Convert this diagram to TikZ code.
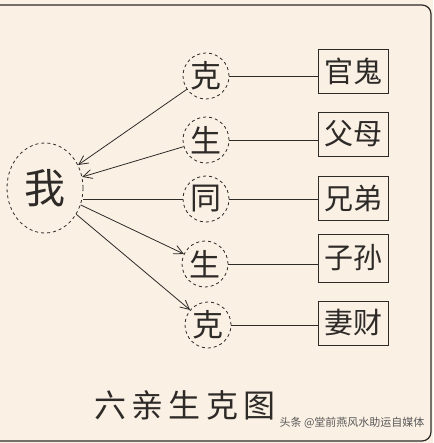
\documentclass[tikz,border=0pt]{standalone}
\usepackage{fontspec}
\setmainfont{Noto Sans CJK SC}
\usetikzlibrary{arrows.meta,shapes.geometric}
\definecolor{fond}{RGB}{250,240,228}
\definecolor{trait}{RGB}{45,42,40}
\tikzset{
  rel/.style={circle,draw=trait,dashed,minimum size=46pt,inner sep=0pt,font=\fontsize{31}{31}\selectfont},
  parent/.style={rectangle,draw=trait,thick,minimum width=70pt,minimum height=44pt,inner sep=0pt,font=\fontsize{29}{29}\selectfont},
  fleche/.style={draw=trait,-{Straight Barb[length=9pt,width=9pt]}},
}
\begin{document}
\begin{tikzpicture}[x=1pt,y=-1pt,line width=0.8pt,text=trait]
            \fill[fond] (0,0) rectangle (433,443); %fond
            \useasboundingbox (0,0) rectangle (433,443);
            \draw[trait,line width=1.2pt,rounded corners=9pt] (-5,5) -- (431,5) -- (431,441) -- (-5,441); %cadre

            \node[ellipse,draw=trait,dashed,minimum width=76pt,minimum height=90pt,inner sep=0pt,font=\fontsize{41}{41}\selectfont] (wo) at (45,188) {我}; %moi

            \node[rel] (ke1) at (206,76) {克};
            \node[rel] (sheng1) at (206,140) {生};
            \node[rel] (tong) at (206,199) {同};
            \node[rel] (sheng2) at (205,264) {生};
            \node[rel] (ke2) at (208,325) {克};

            \node[parent] (guangui) at (353,71) {官鬼};
            \node[parent] (fumu) at (353,134) {父母};
            \node[parent] (xiongdi) at (353,198) {兄弟};
            \node[parent,minimum height=48pt] (zisun) at (353,258) {子孙};
            \node[parent] (qicai) at (353,323) {妻财};

            % liens vers les cases
            \draw[trait] (ke1.east) -- (ke1.east -| guangui.west);
            \draw[trait] (sheng1.east) -- (sheng1.east -| fumu.west);
            \draw[trait] (tong.east) -- (tong.east -| xiongdi.west);
            \draw[trait] (sheng2.east) -- (sheng2.east -| zisun.west);
            \draw[trait] (ke2.east) -- (ke2.east -| qicai.west);

            % liens vers moi
            \draw[fleche] (ke1) -- (wo);
            \draw[fleche] (sheng1) -- (wo);
            \draw[trait] (tong.west -| wo.east) -- (tong.west);
            \draw[fleche] (wo) -- (sheng2);
            \draw[fleche] (wo) -- (ke2);

            \node[font=\fontsize{32}{32}\selectfont\addfontfeature{LetterSpace=17}] (titre) at (185,405) {六亲生克图}; %titre
            \node[font=\fontsize{11}{11}\selectfont,text=black!65] (marque) at (352,423) {头条 @堂前燕风水助运自媒体};
        \end{tikzpicture}
\end{document}
